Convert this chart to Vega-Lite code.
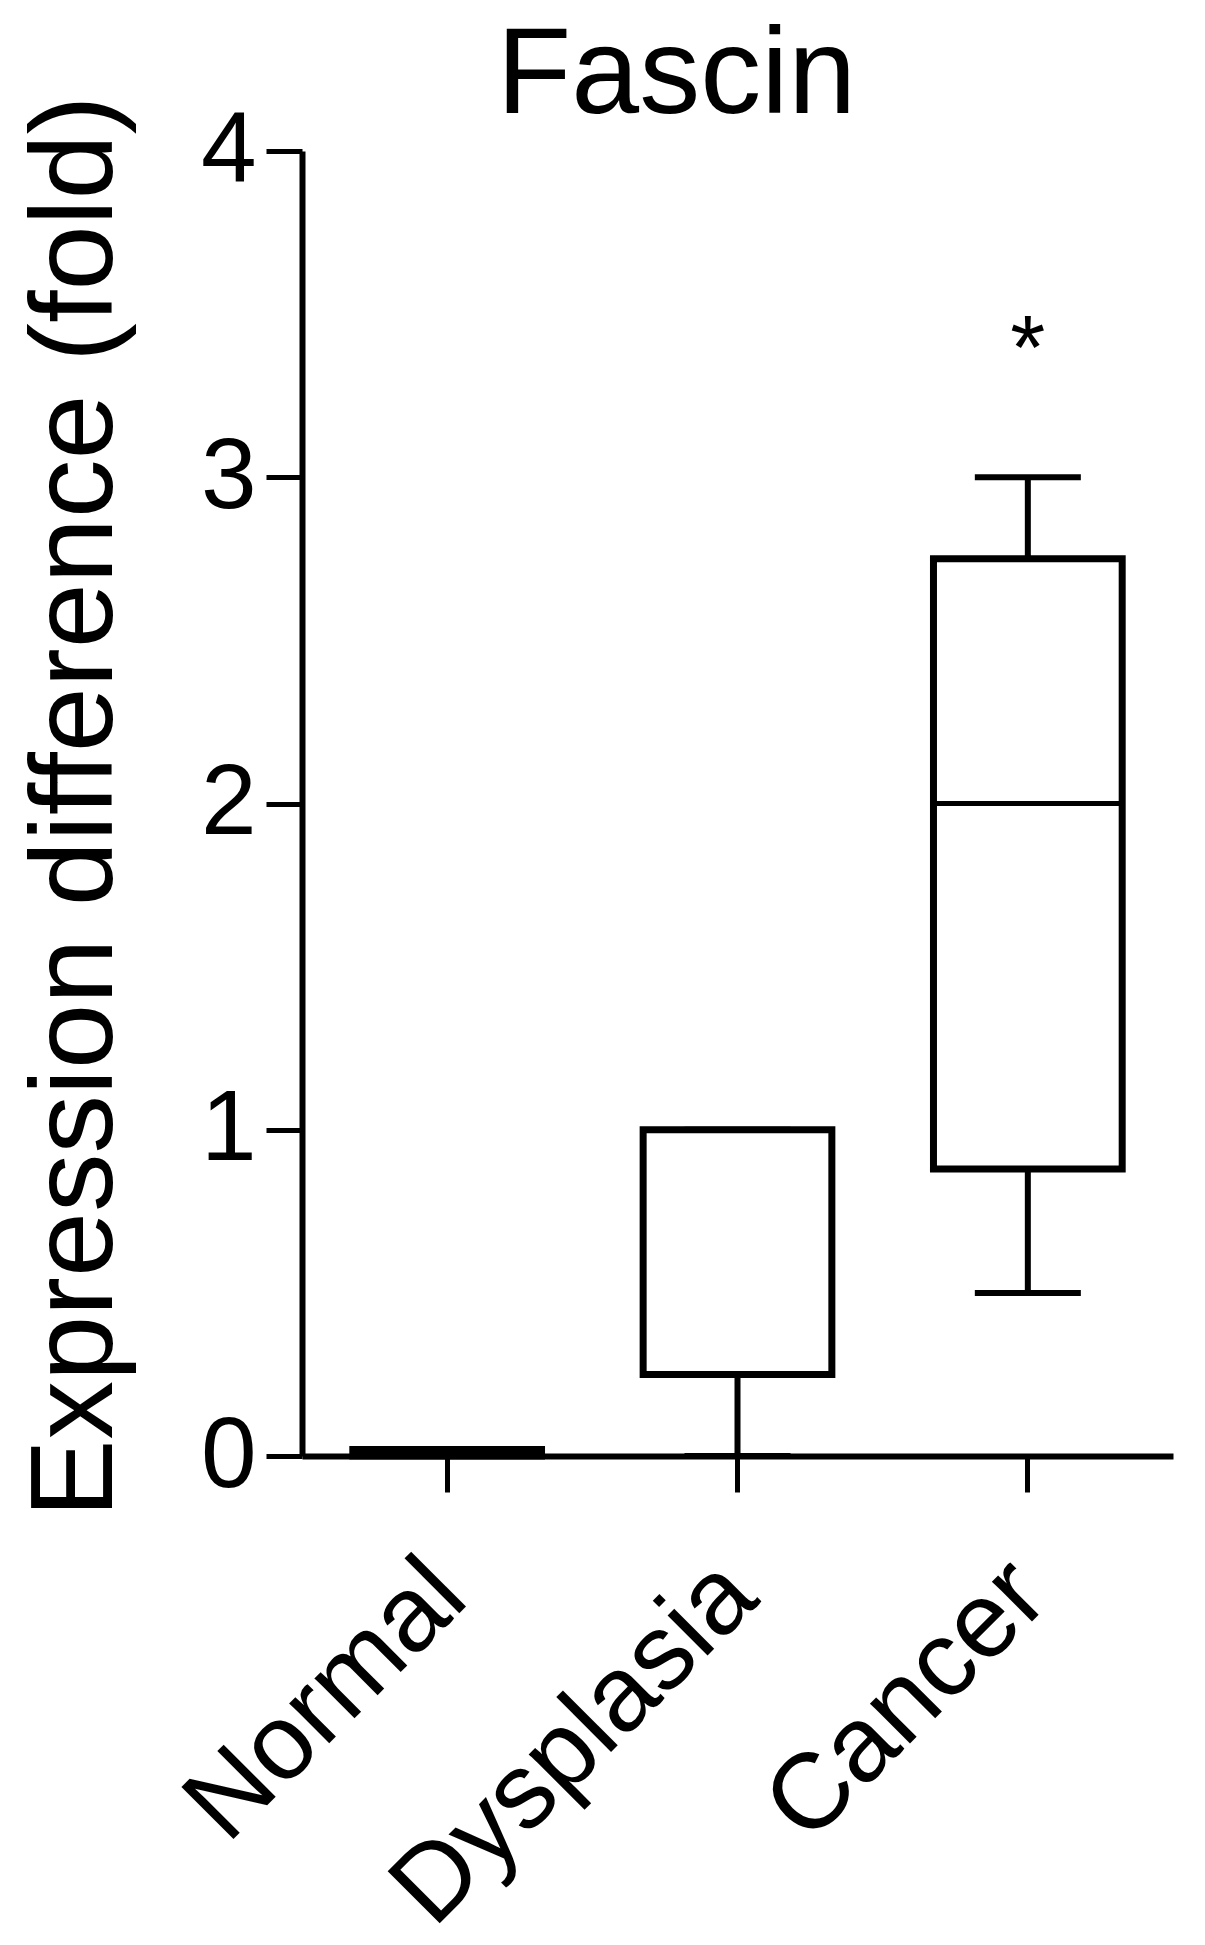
{
  "$schema": "https://vega.github.io/schema/vega-lite/v6.json",
  "width": 871,
  "height": 1305,
  "autosize": "none",
  "padding": {"left": 302, "top": 151, "right": 32, "bottom": 489},
  "background": "white",
  "config": {
    "view": {"stroke": null},
    "font": "Liberation Sans",
    "axis": {"grid": false, "domainColor": "black", "tickColor": "black", "labelColor": "black", "titleColor": "black", "labelFont": "Liberation Sans", "titleFont": "Liberation Sans"}
  },
  "datasets": {
    "boxes": [
      {"group": "Normal", "lower": 0, "q1": 0, "median": 0, "q3": 0.02, "upper": 0.02},
      {"group": "Dysplasia", "lower": 0, "q1": 0.25, "median": 0.25, "q3": 1.0, "upper": 1.0},
      {"group": "Cancer", "lower": 0.5, "q1": 0.88, "median": 2.0, "q3": 2.75, "upper": 3.0}
    ],
    "notes": [
      {"group": "Cancer", "label": "*", "pos": 3.3}
    ]
  },
  "data": {"name": "boxes"},
  "encoding": {
    "x": {"field": "group", "type": "nominal", "sort": ["Normal", "Dysplasia", "Cancer"],
      "scale": {"paddingInner": 0, "paddingOuter": 0},
      "axis": {"title": "Fascin", "titleFontSize": 122, "titleFontWeight": "normal", "titleX": 374, "titleY": -1344, "titleAlign": "center", "titleBaseline": "alphabetic", "titleAngle": 0,
        "labelAngle": -45, "labelFontSize": 107, "labelLimit": 0, "labelAlign": "right", "labelBaseline": "alphabetic", "labelOffset": 24, "labelPadding": 109, "tickSize": 36, "tickWidth": 5, "domainWidth": 6, "labelColor": "black"}}
  },
  "layer": [
    {
      "mark": {"type": "rule", "color": "black", "strokeWidth": 6},
      "encoding": {
        "y": {"field": "lower", "type": "quantitative", "scale": {"domain": [0, 4], "nice": false},
          "axis": {"title": "Expression difference (fold)", "values": [0, 1, 2, 3, 4], "format": "d", "labelFontSize": 100, "labelPadding": 10, "tickSize": 36, "tickWidth": 5, "domainWidth": 6, "titleFontSize": 117, "titleFontWeight": "normal", "titleX": -226, "titleY": 655, "titleAngle": -90, "titleAlign": "center", "titleBaseline": "middle"}},
        "y2": {"field": "upper"}
      }
    },
    {
      "mark": {"type": "tick", "orient": "horizontal", "color": "black", "opacity": 1, "size": 106, "thickness": 6},
      "encoding": {"y": {"field": "upper", "type": "quantitative"}}
    },
    {
      "mark": {"type": "tick", "orient": "horizontal", "color": "black", "opacity": 1, "size": 106, "thickness": 6},
      "encoding": {"y": {"field": "lower", "type": "quantitative"}}
    },
    {
      "mark": {"type": "bar", "fill": "white", "stroke": "black", "strokeWidth": 7, "width": {"band": 0.65}},
      "encoding": {
        "y": {"field": "q1", "type": "quantitative"},
        "y2": {"field": "q3"}
      }
    },
    {
      "mark": {"type": "tick", "orient": "horizontal", "color": "black", "opacity": 1, "size": 189, "thickness": 5},
      "encoding": {"y": {"field": "median", "type": "quantitative"}}
    },
    {
      "data": {"name": "notes"},
      "mark": {"type": "text", "fontSize": 90, "font": "Liberation Sans", "color": "black", "baseline": "alphabetic", "align": "center"},
      "encoding": {
        "y": {"field": "pos", "type": "quantitative"},
        "text": {"field": "label"}
      }
    }
  ]
}
